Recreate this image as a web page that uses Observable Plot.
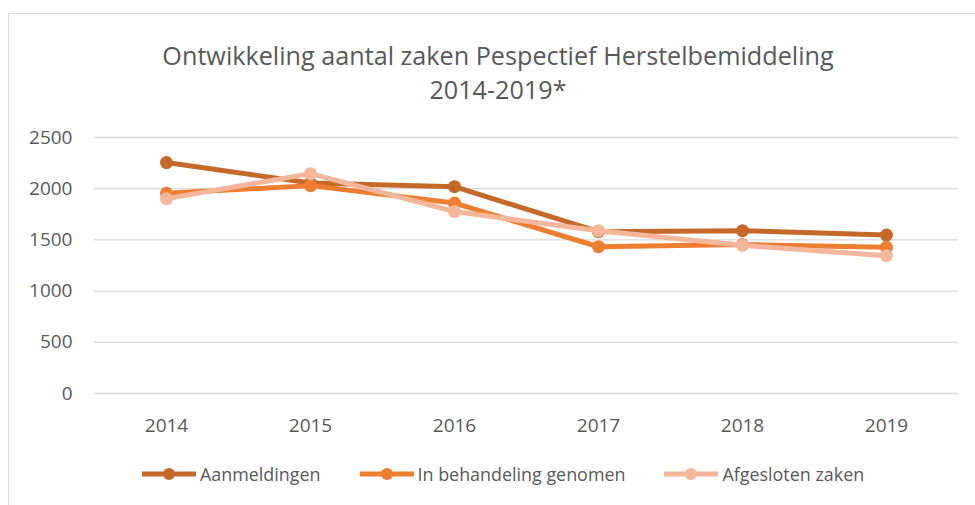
<!DOCTYPE html>
<html>
<head>
<meta charset="utf-8">
<script src="https://cdn.jsdelivr.net/npm/d3@7"></script>
<script src="https://cdn.jsdelivr.net/npm/@observablehq/plot@0.6"></script>
<style>
  html, body { margin: 0; padding: 0; background: #fff; }
  body { width: 975px; height: 505px; overflow: hidden; position: relative; font-family: "Open Sans", sans-serif; color: #595959; }
  #frame { position: absolute; left: 8px; top: 13px; width: 1000px; height: 600px; border: 1px solid #d9d9d9; }
  #title { position: absolute; left: 0; top: 38px; width: 996px; text-align: center; font-size: 25.2px; line-height: 34px; color: #595959; }
  #chart { position: absolute; left: 0; top: 110px; }
  #legend { position: absolute; left: 141px; top: 462px; height: 24px; display: flex; align-items: center; font-size: 17.9px; color: #595959; }
  .item { display: flex; align-items: center; margin-right: 38px; }
  .item svg { margin-right: 3px; }
</style>
</head>
<body>
<div id="frame"></div>
<div id="title">Ontwikkeling aantal zaken Pespectief Herstelbemiddeling<br>2014-2019*</div>
<div id="chart"></div>
<div id="legend"></div>
<script>
const years = ["2014", "2015", "2016", "2017", "2018", "2019"];
const seriesNames = ["Aanmeldingen", "In behandeling genomen", "Afgesloten zaken"];
const aanmeldingen = [2255, 2055, 2020, 1580, 1590, 1547];
const inBehandeling = [1955, 2030, 1860, 1433, 1455, 1428];
const afgesloten = [1903, 2147, 1777, 1589, 1447, 1345];
const yTicks = [0, 500, 1000, 1500, 2000, 2500];
const colors = ["#C5692B", "#ED7D31", "#F4B79C"];

const valuesBySeries = [aanmeldingen, inBehandeling, afgesloten];
const data = [];
seriesNames.forEach((s, i) => years.forEach((y, j) => data.push({series: s, year: y, value: valuesBySeries[i][j]})));

const chart = Plot.plot({
  width: 975,
  height: 340,
  marginTop: 27,
  marginBottom: 57,
  marginLeft: 94,
  marginRight: 17,
  style: {fontFamily: "'Open Sans', sans-serif", fontSize: "19px", color: "#595959", background: "transparent"},
  x: {type: "point", domain: years, padding: 0.5, label: null},
  y: {domain: [0, 2500], label: null},
  color: {domain: seriesNames, range: colors},
  marks: [
    Plot.ruleY(yTicks, {stroke: "#D9D9D9", strokeWidth: 1.3}),
    Plot.axisY({ticks: yTicks, tickSize: 0, tickPadding: 22, tickFormat: d => String(d), fontSize: 19, fill: "#595959", label: null}),
    Plot.axisX({tickSize: 0, tickPadding: 25, fontSize: 19, fill: "#595959", label: null}),
    ...seriesNames.flatMap(s => [
      Plot.line(data.filter(d => d.series === s), {x: "year", y: "value", stroke: "series", strokeWidth: 5, strokeLinejoin: "round"}),
      Plot.dot(data.filter(d => d.series === s), {x: "year", y: "value", fill: "series", r: 6.5, stroke: "none"})
    ])
  ]
});
document.getElementById("chart").appendChild(chart);

const legend = document.getElementById("legend");
seriesNames.forEach((s, i) => {
  const item = document.createElement("div");
  item.className = "item";
  item.innerHTML = `<svg width="56" height="16"><line x1="1" y1="8" x2="55" y2="8" stroke="${colors[i]}" stroke-width="5"/><circle cx="28" cy="8" r="6" fill="${colors[i]}"/></svg><span>${s}</span>`;
  legend.appendChild(item);
});
</script>
</body>
</html>
